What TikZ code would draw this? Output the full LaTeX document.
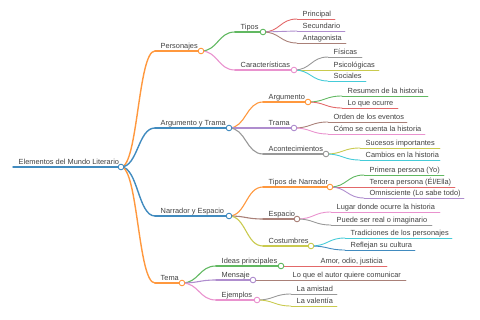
\documentclass[tikz,border=0pt]{standalone}
\usepackage{fontspec}
\setmainfont{Liberation Sans}
\usetikzlibrary{calc}
\definecolor{bBlue}{HTML}{1F77B4}
\definecolor{bOrange}{HTML}{FF7F0E}
\definecolor{bGreen}{HTML}{2CA02C}
\definecolor{bRed}{HTML}{D62728}
\definecolor{bPurple}{HTML}{9467BD}
\definecolor{bBrown}{HTML}{8C564B}
\definecolor{bPink}{HTML}{E377C2}
\definecolor{bGrey}{HTML}{7F7F7F}
\definecolor{bOlive}{HTML}{BCBD22}
\definecolor{bCyan}{HTML}{17BECF}
\colorlet{cBlue}{bBlue!85!white}
\colorlet{cOrange}{bOrange!80!white}
\colorlet{cGreen}{bGreen!75!white}
\colorlet{cRed}{bRed!70!white}
\colorlet{cPurple}{bPurple!75!white}
\colorlet{cBrown}{bBrown!75!white}
\colorlet{cPink}{bPink!80!white}
\colorlet{cGrey}{bGrey!80!white}
\colorlet{cOlive}{bOlive!80!white}
\colorlet{cCyan}{bCyan!80!white}
\tikzset{
  lbl/.style={anchor=base west, inner sep=0pt, text=black!75, font=\fontsize{7.4}{8}\selectfont},
  branch/.style={line cap=round},
  dot/.style={fill=white, line width=0.9pt}
}
% name, start x, end x, y, colour, width, text
\newcommand\mmnode[7]{%
  \coordinate (#1s) at (#2,#4);
  \coordinate (#1e) at (#3,#4);
  \draw[branch, #5, line width=#6pt] (#1s) -- (#1e);
  \node[lbl] (#1t) at ($(#1s)+(5.5,-2.6)$) {#7};
}
% parent, child, colour, width
\newcommand\mmlink[4]{%
  \draw[branch, #3, line width=#4pt] let \p1=(#1e), \p2=(#2s) in
    (\p1) .. controls ({(\x1+\x2)/2},\y1) and ({(\x1+\x2)/2},\y2) .. (\p2);
}
\newcommand\mmdot[2]{%
  \draw[#2, dot] (#1e) circle (2.8pt);
}
\begin{document}
\begin{tikzpicture}[x=1pt,y=-1pt]
\useasboundingbox (0,0) rectangle (480,320);
% root
\mmnode{root}{13}{121}{167}{cBlue}{1.4}{Elementos del Mundo Literario}
% level 1
\mmnode{per}{155}{201}{51}{cOrange}{1.4}{Personajes}
\mmnode{arg}{155}{229}{128}{cBlue}{1.4}{Argumento y Trama}
\mmnode{nar}{155}{229}{216}{cBlue}{1.4}{Narrador y Espacio}
\mmnode{tem}{155}{182}{283}{cOrange}{1.4}{Tema}
% Personajes
\mmnode{tip}{235}{263}{32}{cGreen}{1.1}{Tipos}
\mmnode{car}{235}{294}{70}{cPink}{1.1}{Características}
\mmnode{pri}{297}{335}{19}{cRed}{0.9}{Principal}
\mmnode{sec}{297}{345}{31}{cPurple}{0.9}{Secundario}
\mmnode{ant}{297}{346}{43}{cBrown}{0.9}{Antagonista}
\mmnode{fis}{328}{362}{57}{cGrey}{0.9}{Físicas}
\mmnode{psi}{328}{379}{70}{cOlive}{0.9}{Psicológicas}
\mmnode{soc}{328}{366}{81}{cCyan}{0.9}{Sociales}
% Argumento y Trama
\mmnode{argu}{263}{308}{102}{cOrange}{1.1}{Argumento}
\mmnode{tra}{263}{294}{128}{cPurple}{1.1}{Trama}
\mmnode{aco}{263}{326}{154}{cGrey}{1.1}{Acontecimientos}
\mmnode{res}{342}{428}{96}{cGreen}{0.9}{Resumen de la historia}
\mmnode{lqo}{342}{398}{108}{cRed}{0.9}{Lo que ocurre}
\mmnode{ord}{328}{407}{122}{cBrown}{0.9}{Orden de los eventos}
\mmnode{com}{328}{425}{134}{cPink}{0.9}{Cómo se cuenta la historia}
\mmnode{suc}{360}{440}{148}{cOlive}{0.9}{Sucesos importantes}
\mmnode{cam}{360}{440}{160}{cCyan}{0.9}{Cambios en la historia}
% Narrador y Espacio
\mmnode{tdn}{263}{330}{187}{cOrange}{1.1}{Tipos de Narrador}
\mmnode{esp}{263}{297}{219}{cBrown}{1.1}{Espacio}
\mmnode{cos}{263}{311}{246}{cOlive}{1.1}{Costumbres}
\mmnode{pp}{364}{444}{175}{cGreen}{0.9}{Primera persona (Yo)}
\mmnode{tp}{364}{455}{187}{cRed}{0.9}{Tercera persona (Él/Ella)}
\mmnode{omn}{364}{464}{198}{cPurple}{0.9}{Omnisciente (Lo sabe todo)}
\mmnode{lug}{331}{440}{212}{cPink}{0.9}{Lugar donde ocurre la historia}
\mmnode{pue}{331}{432}{225}{cGrey}{0.9}{Puede ser real o imaginario}
\mmnode{trd}{345}{452}{238}{cCyan}{0.9}{Tradiciones de los personajes}
\mmnode{ref}{345}{415}{250}{cBlue}{0.9}{Reflejan su cultura}
% Tema
\mmnode{ide}{216}{281}{266}{cGreen}{1.1}{Ideas principales}
\mmnode{men}{216}{253}{280}{cPurple}{1.1}{Mensaje}
\mmnode{eje}{216}{257}{300}{cPink}{1.1}{Ejemplos}
\mmnode{amo}{315}{387}{266}{cRed}{0.9}{Amor, odio, justicia}
\mmnode{lqa}{287}{406}{280}{cBrown}{0.9}{Lo que el autor quiere comunicar}
\mmnode{ami}{291}{337}{294}{cGrey}{0.9}{La amistad}
\mmnode{val}{291}{337}{306}{cOlive}{0.9}{La valentía}
% links
\mmlink{root}{per}{cOrange}{1.4}
\mmlink{root}{arg}{cBlue}{1.4}
\mmlink{root}{nar}{cBlue}{1.4}
\mmlink{root}{tem}{cOrange}{1.4}
\mmlink{per}{tip}{cGreen}{1.1}
\mmlink{per}{car}{cPink}{1.1}
\mmlink{tip}{pri}{cRed}{0.9}
\mmlink{tip}{sec}{cPurple}{0.9}
\mmlink{tip}{ant}{cBrown}{0.9}
\mmlink{car}{fis}{cGrey}{0.9}
\mmlink{car}{psi}{cOlive}{0.9}
\mmlink{car}{soc}{cCyan}{0.9}
\mmlink{arg}{argu}{cOrange}{1.1}
\mmlink{arg}{tra}{cPurple}{1.1}
\mmlink{arg}{aco}{cGrey}{1.1}
\mmlink{argu}{res}{cGreen}{0.9}
\mmlink{argu}{lqo}{cRed}{0.9}
\mmlink{tra}{ord}{cBrown}{0.9}
\mmlink{tra}{com}{cPink}{0.9}
\mmlink{aco}{suc}{cOlive}{0.9}
\mmlink{aco}{cam}{cCyan}{0.9}
\mmlink{nar}{tdn}{cOrange}{1.1}
\mmlink{nar}{esp}{cBrown}{1.1}
\mmlink{nar}{cos}{cOlive}{1.1}
\mmlink{tdn}{pp}{cGreen}{0.9}
\mmlink{tdn}{tp}{cRed}{0.9}
\mmlink{tdn}{omn}{cPurple}{0.9}
\mmlink{esp}{lug}{cPink}{0.9}
\mmlink{esp}{pue}{cGrey}{0.9}
\mmlink{cos}{trd}{cCyan}{0.9}
\mmlink{cos}{ref}{cBlue}{0.9}
\mmlink{tem}{ide}{cGreen}{1.1}
\mmlink{tem}{men}{cPurple}{1.1}
\mmlink{tem}{eje}{cPink}{1.1}
\mmlink{ide}{amo}{cRed}{0.9}
\mmlink{men}{lqa}{cBrown}{0.9}
\mmlink{eje}{ami}{cGrey}{0.9}
\mmlink{eje}{val}{cOlive}{0.9}
% circles
\mmdot{root}{cBlue}
\mmdot{per}{cOrange}
\mmdot{arg}{cBlue}
\mmdot{nar}{cBlue}
\mmdot{tem}{cOrange}
\mmdot{tip}{cGreen}
\mmdot{car}{cPink}
\mmdot{argu}{cOrange}
\mmdot{tra}{cPurple}
\mmdot{aco}{cGrey}
\mmdot{tdn}{cOrange}
\mmdot{esp}{cBrown}
\mmdot{cos}{cOlive}
\mmdot{ide}{cGreen}
\mmdot{men}{cPurple}
\mmdot{eje}{cPink}
\end{tikzpicture}
\end{document}
